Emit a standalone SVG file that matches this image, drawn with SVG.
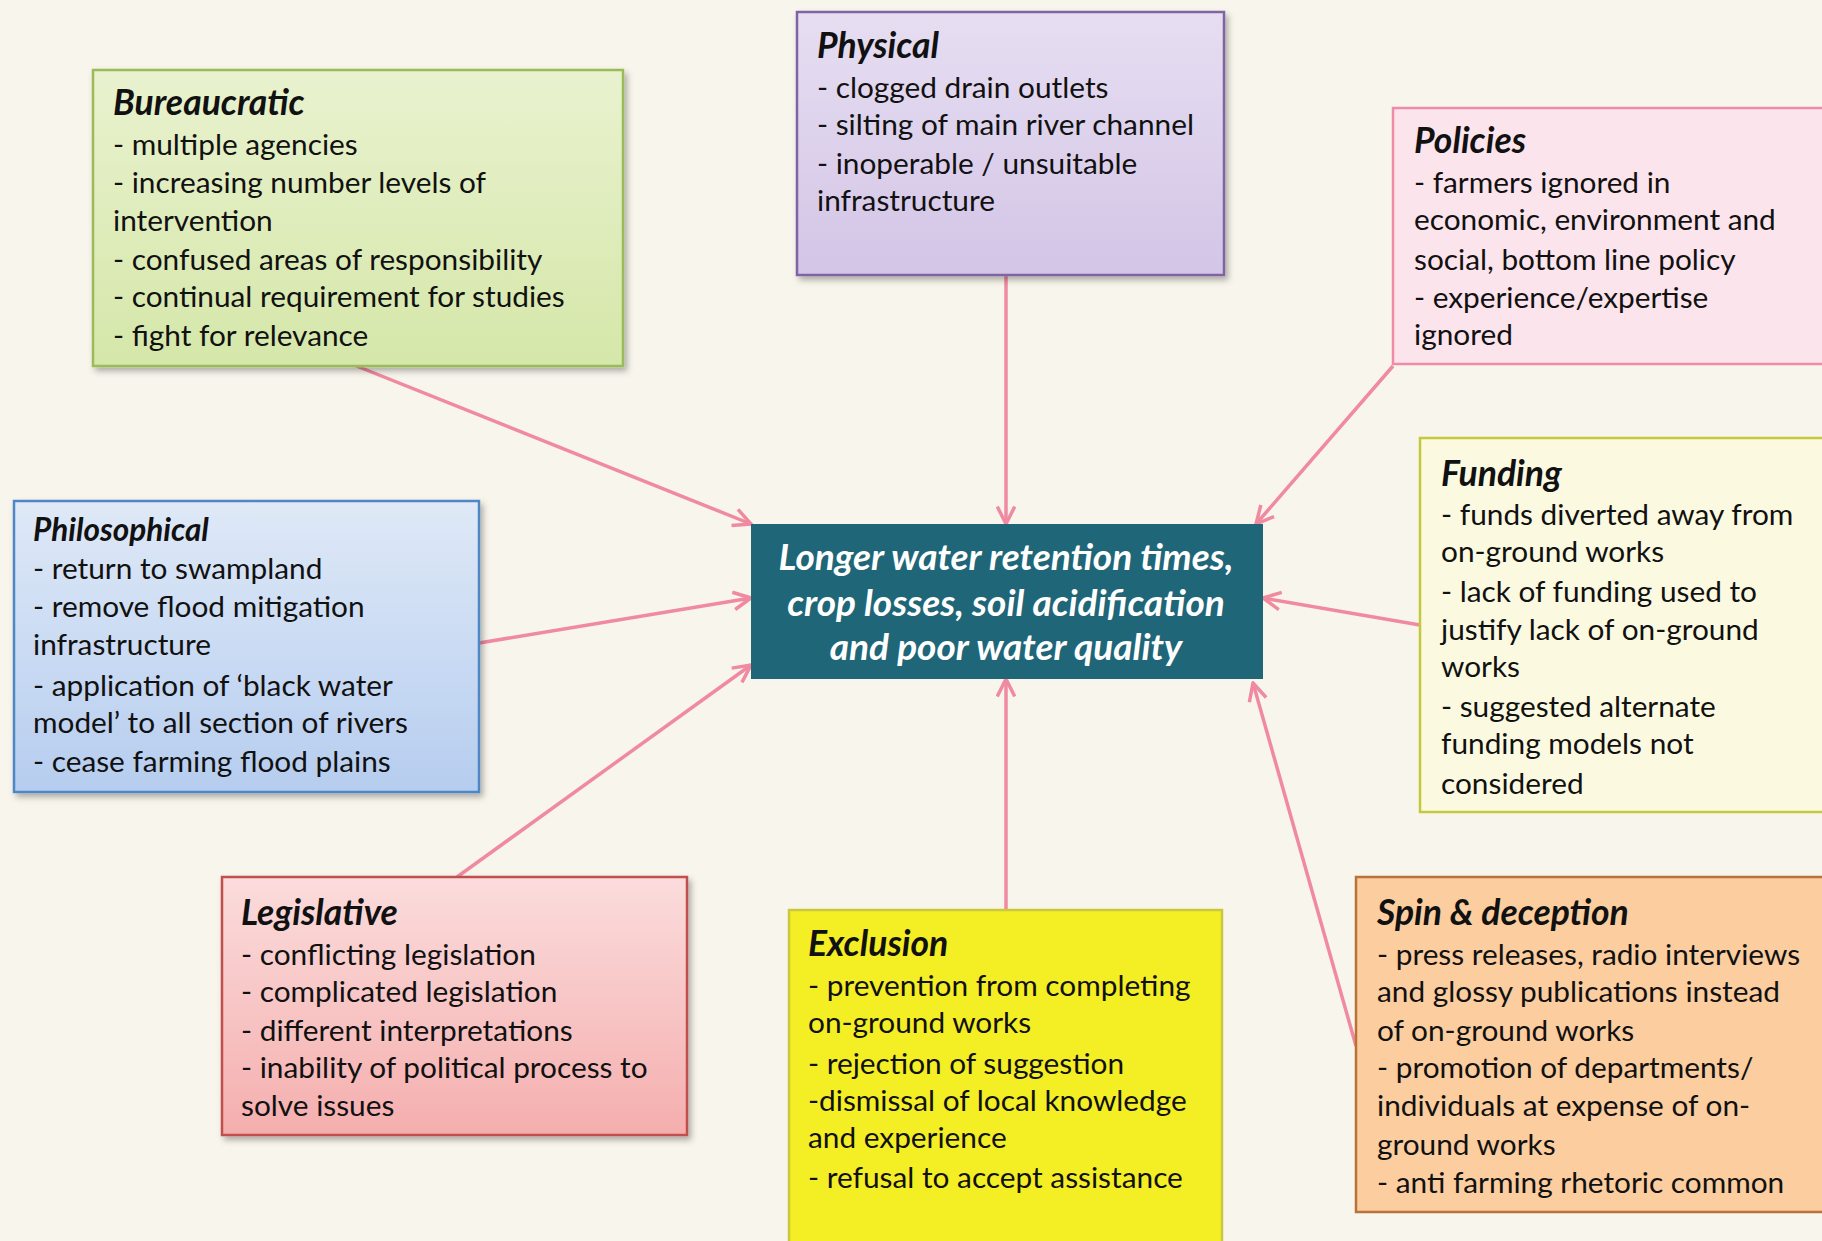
<svg xmlns="http://www.w3.org/2000/svg" width="1822" height="1241" viewBox="0 0 1822 1241">
<defs>
<style>
.t{font-family:Lato,"Open Sans","Liberation Sans",sans-serif;font-size:29.8px;fill:#111}
.h{font-family:Lato,"Open Sans","Liberation Sans",sans-serif;font-size:35.5px;font-weight:bold;font-style:italic;fill:#111}
.c{font-family:Lato,"Open Sans","Liberation Sans",sans-serif;font-size:37px;font-weight:bold;font-style:italic;fill:#fff;text-anchor:middle}
.box{stroke-width:2.5}
.con{stroke:#f08aa0;stroke-width:3.5;fill:none;marker-end:url(#arr)}
</style>
<marker id="arr" viewBox="0 0 12 12" refX="11" refY="6" markerWidth="6" markerHeight="6" orient="auto" markerUnits="strokeWidth">
<path d="M1,1 L11,6 L1,11" fill="none" stroke="#f08aa0" stroke-width="2"/>
</marker>
<filter id="sh" x="-5%" y="-5%" width="112%" height="115%">
<feDropShadow dx="3" dy="4" stdDeviation="3" flood-color="#000" flood-opacity="0.3"/>
</filter>
<linearGradient id="gGreen" x1="0" y1="0" x2="0" y2="1"><stop offset="0" stop-color="#e9f2cf"/><stop offset="1" stop-color="#d5e7a9"/></linearGradient>
<linearGradient id="gPurple" x1="0" y1="0" x2="0" y2="1"><stop offset="0" stop-color="#e7def2"/><stop offset="1" stop-color="#d3c5e6"/></linearGradient>
<linearGradient id="gBlue" x1="0" y1="0" x2="0" y2="1"><stop offset="0" stop-color="#dfe9f7"/><stop offset="1" stop-color="#b6cdef"/></linearGradient>
<linearGradient id="gRed" x1="0" y1="0" x2="0" y2="1"><stop offset="0" stop-color="#fbdcdc"/><stop offset="1" stop-color="#f5aeae"/></linearGradient>
</defs>
<rect x="0" y="0" width="1822" height="1241" fill="#f8f6ec"/>

<g id="connectors">
<line class="con" x1="354" y1="365" x2="751" y2="524"/>
<line class="con" x1="1006" y1="275" x2="1006" y2="524"/>
<line class="con" x1="1393" y1="366" x2="1256" y2="524"/>
<line class="con" x1="1420" y1="625" x2="1263" y2="598"/>
<line class="con" x1="479" y1="643" x2="751" y2="598"/>
<line class="con" x1="457" y1="877" x2="751" y2="665"/>
<line class="con" x1="1006" y1="910" x2="1006" y2="679"/>
<line class="con" x1="1356" y1="1046" x2="1253" y2="683"/>
</g>

<g id="bureaucratic">
<rect class="box" x="93" y="70" width="530" height="296" fill="url(#gGreen)" stroke="#9bbb59" filter="url(#sh)"/>
<text class="h" x="113" y="115">Bureaucratic</text>
<text class="t" x="113" y="155">- multiple agencies</text>
<text class="t" x="113" y="193">- increasing number levels of</text>
<text class="t" x="113" y="231">intervention</text>
<text class="t" x="113" y="270">- confused areas of responsibility</text>
<text class="t" x="113" y="307">- continual requirement for studies</text>
<text class="t" x="113" y="346">- fight for relevance</text>
</g>

<g id="physical">
<rect class="box" x="797" y="12" width="427" height="263" fill="url(#gPurple)" stroke="#8064a2" filter="url(#sh)"/>
<text class="h" x="817" y="58">Physical</text>
<text class="t" x="817" y="98">- clogged drain outlets</text>
<text class="t" x="817" y="135">- silting of main river channel</text>
<text class="t" x="817" y="174">- inoperable / unsuitable</text>
<text class="t" x="817" y="211">infrastructure</text>
</g>

<g id="policies">
<rect class="box" x="1393" y="108" width="440" height="256" fill="#fce4ec" stroke="#f08ca8"/>
<text class="h" x="1414" y="153">Policies</text>
<text class="t" x="1414" y="193">- farmers ignored in</text>
<text class="t" x="1414" y="230">economic, environment and</text>
<text class="t" x="1414" y="270">social, bottom line policy</text>
<text class="t" x="1414" y="308">- experience/expertise</text>
<text class="t" x="1414" y="345">ignored</text>
</g>

<g id="funding">
<rect class="box" x="1420" y="438" width="412" height="374" fill="#fbfae1" stroke="#c4c83c"/>
<text class="h" x="1441" y="486">Funding</text>
<text class="t" x="1441" y="525">- funds diverted away from</text>
<text class="t" x="1441" y="562">on-ground works</text>
<text class="t" x="1441" y="602">- lack of funding used to</text>
<text class="t" x="1441" y="640">justify lack of on-ground</text>
<text class="t" x="1441" y="677">works</text>
<text class="t" x="1441" y="717">- suggested alternate</text>
<text class="t" x="1441" y="754">funding models not</text>
<text class="t" x="1441" y="794">considered</text>
</g>

<g id="philosophical">
<rect class="box" x="14" y="501" width="465" height="291" fill="url(#gBlue)" stroke="#4f86c6" filter="url(#sh)"/>
<text class="h" x="33" y="541" style="font-size:31.5px">Philosophical</text>
<text class="t" x="33" y="579">- return to swampland</text>
<text class="t" x="33" y="617">- remove flood mitigation</text>
<text class="t" x="33" y="655">infrastructure</text>
<text class="t" x="33" y="696">- application of ‘black water</text>
<text class="t" x="33" y="733">model’ to all section of rivers</text>
<text class="t" x="33" y="772">- cease farming flood plains</text>
</g>

<g id="center">
<rect x="751" y="524" width="512" height="155" fill="#1f6678"/>
<text class="c" x="1006" y="570">Longer water retention times,</text>
<text class="c" x="1006" y="616">crop losses, soil acidification</text>
<text class="c" x="1006" y="660">and poor water quality</text>
</g>

<g id="legislative">
<rect class="box" x="222" y="877" width="465" height="258" fill="url(#gRed)" stroke="#c0504d" filter="url(#sh)"/>
<text class="h" x="241" y="925">Legislative</text>
<text class="t" x="241" y="965">- conflicting legislation</text>
<text class="t" x="241" y="1002">- complicated legislation</text>
<text class="t" x="241" y="1041">- different interpretations</text>
<text class="t" x="241" y="1078">- inability of political process to</text>
<text class="t" x="241" y="1116">solve issues</text>
</g>

<g id="exclusion">
<rect class="box" x="789" y="910" width="433" height="340" fill="#f4ee25" stroke="#c9c83e"/>
<text class="h" x="808" y="956">Exclusion</text>
<text class="t" x="808" y="996">- prevention from completing</text>
<text class="t" x="808" y="1033">on-ground works</text>
<text class="t" x="808" y="1074">- rejection of suggestion</text>
<text class="t" x="808" y="1111">-dismissal of local knowledge</text>
<text class="t" x="808" y="1148">and experience</text>
<text class="t" x="808" y="1188">- refusal to accept assistance</text>
</g>

<g id="spin">
<rect class="box" x="1356" y="877" width="476" height="335" fill="#fbcd9f" stroke="#b9733a"/>
<text class="h" x="1377" y="925">Spin &amp; deception</text>
<text class="t" x="1377" y="965">- press releases, radio interviews</text>
<text class="t" x="1377" y="1002">and glossy publications instead</text>
<text class="t" x="1377" y="1041">of on-ground works</text>
<text class="t" x="1377" y="1078">- promotion of departments/</text>
<text class="t" x="1377" y="1116">individuals at expense of on-</text>
<text class="t" x="1377" y="1155">ground works</text>
<text class="t" x="1377" y="1193">- anti farming rhetoric common</text>
</g>
</svg>
